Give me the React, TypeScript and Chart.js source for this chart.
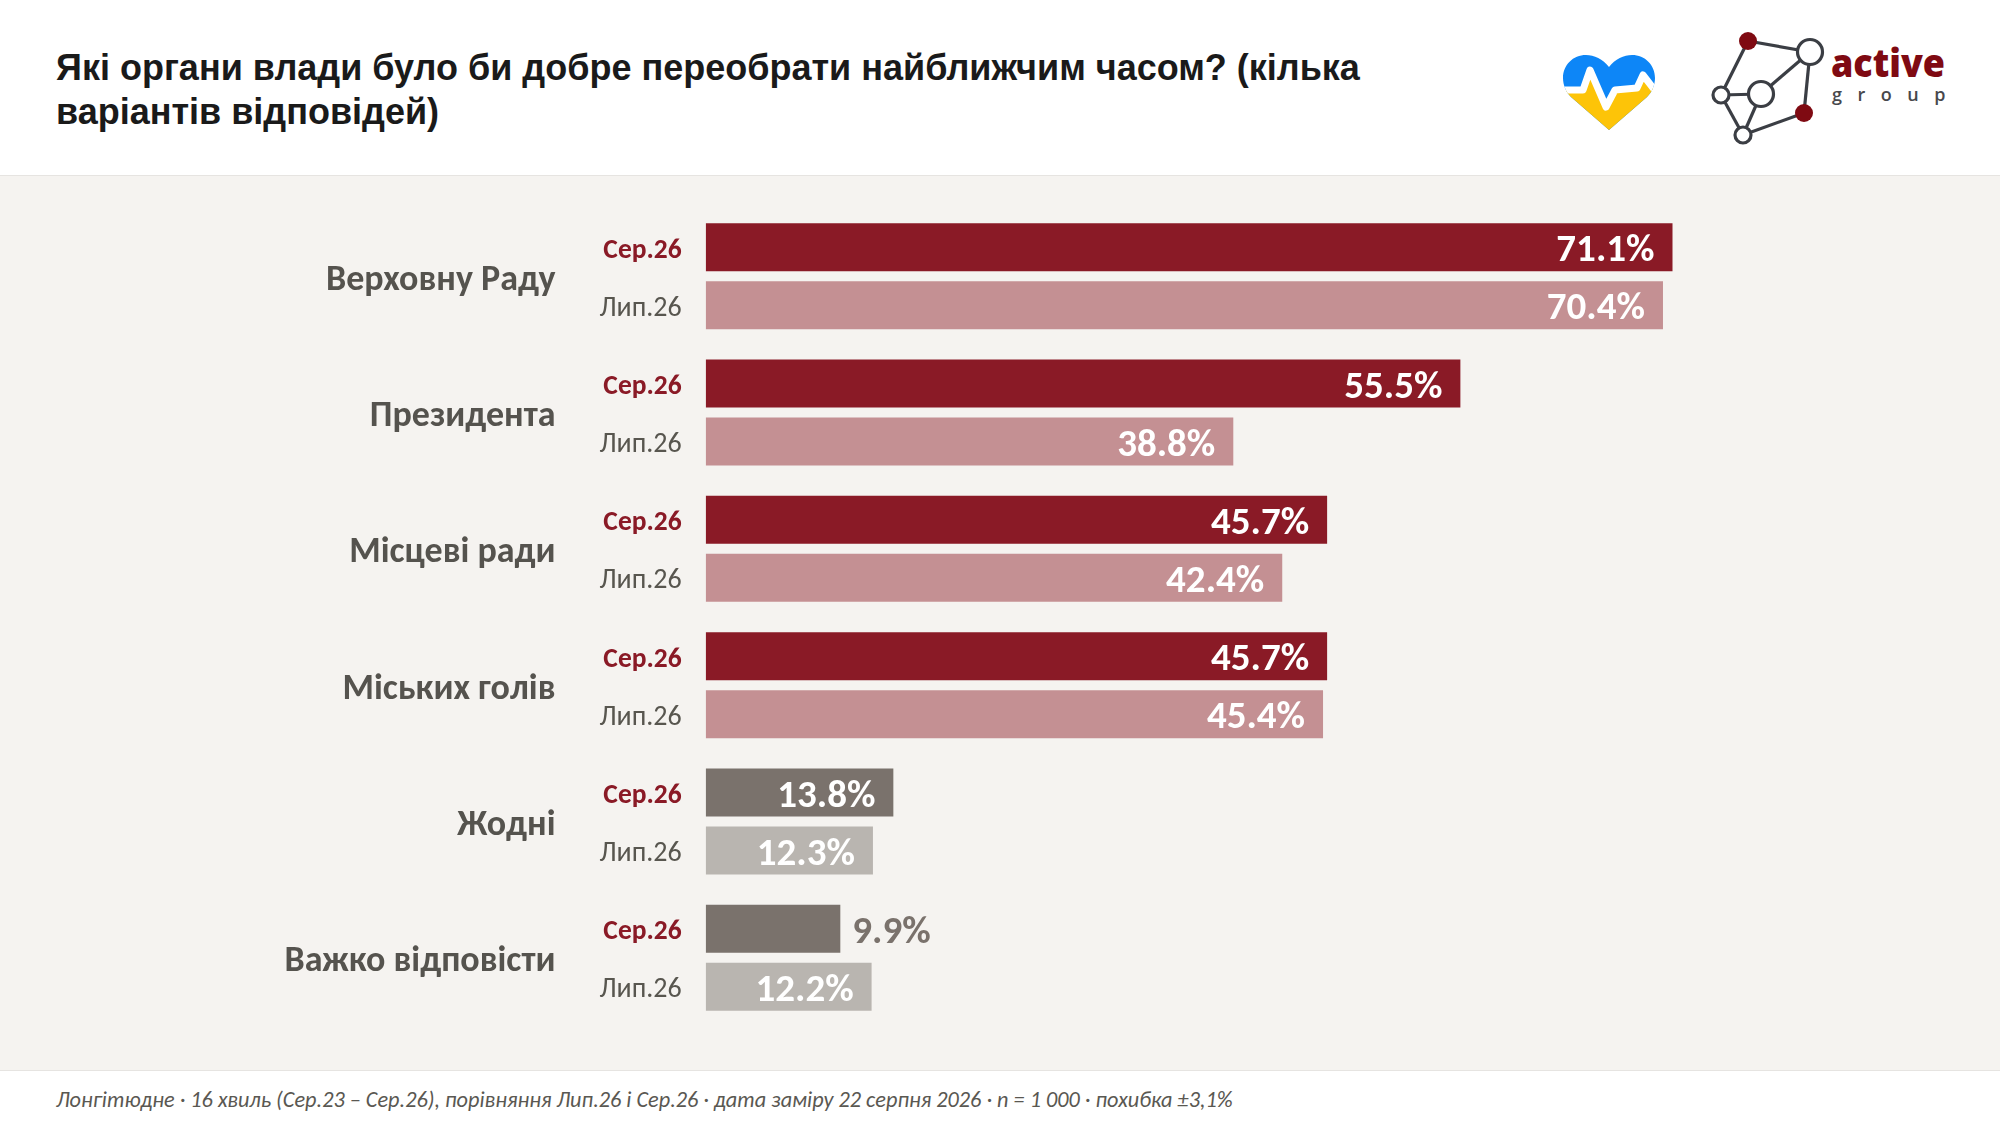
import React, { useEffect, useRef } from "react";
import { Chart, registerables } from "chart.js";

Chart.register(...registerables);

const categories = ["Верховну Раду", "Президента", "Місцеві ради", "Міських голів", "Жодні", "Важко відповісти"];
const seriesNames = ["Сер.26", "Лип.26"];
const sep26 = [71.1, 55.5, 45.7, 45.7, 13.8, 9.9];
const lip26 = [70.4, 38.8, 42.4, 45.4, 12.3, 12.2];
const sepColors = ["#8a1a26", "#8a1a26", "#8a1a26", "#8a1a26", "#7a726c", "#7a726c"];
const lipColors = ["#c49093", "#c49093", "#c49093", "#c49093", "#b9b5b0", "#b9b5b0"];

const titleText = "Які органи влади було би добре переобрати найближчим часом? (кілька варіантів відповідей)";
const footerText = "Лонгітюдне · 16 хвиль (Сер.23 – Сер.26), порівняння Лип.26 і Сер.26 · дата заміру 22 серпня 2026 · n = 1 000 · похибка ±3,1%";

const FONT = "Carlito, Lato, sans-serif";

const labelsPlugin = {
  id: "barLabels",
  afterDatasetsDraw(chart: any) {
    const { ctx } = chart;
    chart.data.datasets.forEach((ds: any, di: number) => {
      const meta = chart.getDatasetMeta(di);
      meta.data.forEach((bar: any, i: number) => {
        const v = ds.data[i];
        // series tag to the left of the bar
        ctx.save();
        ctx.textBaseline = "middle";
        ctx.textAlign = "right";
        ctx.font = di === 0 ? `bold 27.5px ${FONT}` : `28px ${FONT}`;
        ctx.fillStyle = di === 0 ? "#8a1a26" : "#58564f";
        ctx.fillText(ds.label, bar.base - 24, bar.y + 3.5);
        // value
        ctx.font = `bold 39px ${FONT}`;
        const text = v.toFixed(1) + "%";
        if (v < 10) {
          ctx.textAlign = "left";
          ctx.fillStyle = "#7a726c";
          ctx.fillText(text, bar.x + 12, bar.y + 4.5);
        } else {
          ctx.textAlign = "right";
          ctx.fillStyle = "#ffffff";
          ctx.fillText(text, bar.x - 18, bar.y + 4.5);
        }
        ctx.restore();
      });
    });
  },
};

const HEART = "M46 12 C40 4 31 0 23 0 C10 0 0 10 0 23 C0 30 3 37 8 42 L46 75 L84 42 C89 37 92 30 92 23 C92 10 82 0 69 0 C61 0 52 4 46 12 Z";

function HeartLogo() {
  return (
    <svg width={92} height={76} viewBox="0 0 92 76" style={{ position: "absolute", left: 1563, top: 55 }}>
      <defs>
        <clipPath id="heartClip"><path d={HEART} /></clipPath>
      </defs>
      <g clipPath="url(#heartClip)">
        <rect x={0} y={0} width={92} height={76} fill="#0d86f7" />
        <polygon points="0,35 20,35 27,15 43,52 52,35 74,33 80,20 92,35 92,76 0,76" fill="#fdc408" />
        <polyline points="-2,35 20,35 27,15 43,52 52,35 74,33 80,20 94,38" fill="none" stroke="#ffffff" strokeWidth={7} strokeLinejoin="round" />
      </g>
    </svg>
  );
}

function ActiveLogo() {
  const stroke = "#3b3e44";
  return (
    <svg width={280} height={130} viewBox="1700 20 280 130" style={{ position: "absolute", left: 1700, top: 20 }}>
      <g stroke={stroke} strokeWidth={3.2} fill="none">
        <line x1={1748} y1={41} x2={1810} y2={52} />
        <line x1={1748} y1={41} x2={1721} y2={95} />
        <line x1={1810} y1={52} x2={1761} y2={94} />
        <line x1={1810} y1={52} x2={1804} y2={113} />
        <line x1={1721} y1={95} x2={1761} y2={94} />
        <line x1={1721} y1={95} x2={1743} y2={135} />
        <line x1={1761} y1={94} x2={1743} y2={135} />
        <line x1={1743} y1={135} x2={1804} y2={113} />
        <circle cx={1810} cy={52} r={12.5} fill="#fff" />
        <circle cx={1761} cy={94} r={12.5} fill="#fff" />
        <circle cx={1721} cy={95} r={8} fill="#fff" />
        <circle cx={1743} cy={135} r={8} fill="#fff" />
      </g>
      <circle cx={1748} cy={41} r={9} fill="#7f0a12" />
      <circle cx={1804} cy={113} r={9} fill="#7f0a12" />
      <text x={1831} y={77} fontFamily="'Open Sans', sans-serif" fontWeight={800} fontSize={38} fill="#7f0a12" textLength={114} lengthAdjust="spacingAndGlyphs">active</text>
      <text x={1832} y={101} fontFamily="'Open Sans', sans-serif" fontWeight={600} fontSize={18} fill="#48484c" letterSpacing={15.5}>group</text>
    </svg>
  );
}

export default function App() {
  const ref = useRef<HTMLCanvasElement | null>(null);

  useEffect(() => {
    if (!ref.current) return;
    const chart = new Chart(ref.current, {
      type: "bar",
      data: {
        labels: categories,
        datasets: [
          { label: seriesNames[0], data: sep26, backgroundColor: sepColors, categoryPercentage: 0.8504, barPercentage: 0.8276 },
          { label: seriesNames[1], data: lip26, backgroundColor: lipColors, categoryPercentage: 0.8504, barPercentage: 0.8276 },
        ],
      },
      options: {
        indexAxis: "y",
        animation: false,
        responsive: false,
        devicePixelRatio: 1,
        layout: { padding: { left: 0, right: 70.5, top: 32, bottom: 44 } },
        plugins: { legend: { display: false }, tooltip: { enabled: false }, title: { display: false } },
        scales: {
          x: { min: 0, max: 90, display: false, grid: { display: false } },
          y: {
            afterFit(scale: any) {
              scale.width = 705.7;
              scale.paddingTop = 0;
              scale.paddingBottom = 0;
            },
            border: { display: false },
            grid: { display: false, drawTicks: false },
            ticks: {
              color: "#55534e",
              padding: 150.2,
              labelOffset: 4.5,
              font: { family: FONT, weight: "bold", size: 36 },
              autoSkip: false,
            },
          },
        },
      },
      plugins: [labelsPlugin],
    } as any);
    return () => chart.destroy();
  }, []);

  return (
    <div style={{ position: "absolute", left: 0, top: 0, width: 2000, height: 1126, background: "#ffffff", overflow: "hidden" }}>
      <div style={{ position: "absolute", left: 56, top: 46, width: 1400, fontFamily: "'Liberation Sans', sans-serif", fontWeight: 700, fontSize: 36, lineHeight: "43.5px", color: "#1a1a1a" }}>
        {titleText}
      </div>
      <HeartLogo />
      <ActiveLogo />
      <div style={{ position: "absolute", left: 0, top: 175, width: 2000, height: 896, background: "#f5f3f0", borderTop: "1px solid #e6e4e1", borderBottom: "1px solid #e6e4e1", boxSizing: "border-box" }}>
        <canvas ref={ref} width={2000} height={894} style={{ display: "block" }} />
      </div>
      <div style={{ position: "absolute", left: 56, top: 1086, fontFamily: FONT, fontStyle: "italic", fontSize: 22.25, color: "#5a5852", whiteSpace: "nowrap" }}>
        {footerText}
      </div>
    </div>
  );
}
